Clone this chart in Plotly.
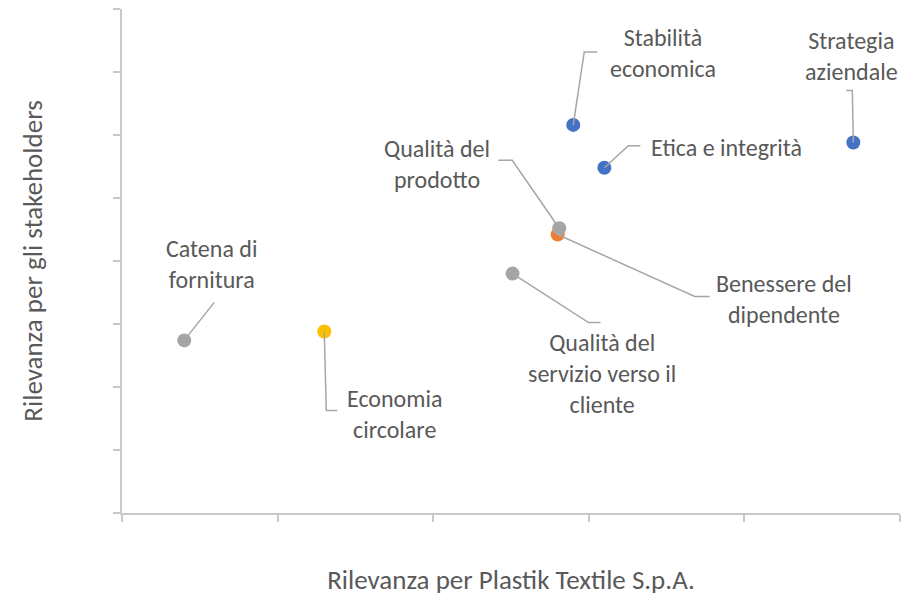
import plotly.graph_objects as go

# ============================
# DATA
# ============================
temi = [
    "Catena di<br>fornitura",
    "Economia<br>circolare",
    "Qualità del<br>servizio verso il<br>cliente",
    "Benessere del<br>dipendente",
    "Qualità del<br>prodotto",
    "Stabilità<br>economica",
    "Etica e integrità",
    "Strategia<br>aziendale",
]
rilevanza_azienda = [0.40, 1.30, 2.51, 2.80, 2.81, 2.90, 3.10, 4.70]
rilevanza_stakeholder = [1.37, 1.44, 1.90, 2.21, 2.26, 3.08, 2.74, 2.94]
colori = ["#A5A5A5", "#FFC000", "#A5A5A5", "#ED7D31", "#A5A5A5",
          "#4472C4", "#4472C4", "#4472C4"]

# label placement (screen pixels from the point: dx right, dy down)
label_off = [(27, -76), (70, 82), (89, 100), (226, 64), (-122, -64),
             (90, -72), (45, -20), (-2, -87)]
label_anchor = ["center", "center", "center", "center", "center",
                "center", "left", "center"]
# leader line elbows (screen pixels from the point)
leader = [
    [(30, -38)],
    [(2, 79), (13, 79)],
    [(76, 49), (88, 49)],
    [(137, 62), (152, 62)],
    [(-47, -68), (-61, -68)],
    [(11, -73), (24, -73)],
    [(24, -22), (36, -22)],
    [(-1, -52), (-7, -52)],
]

GRAY_TXT = "#595959"
AXIS_COL = "#C9C9C9"
FONT = "Carlito, Lato, sans-serif"
FSIZE = 24
TSIZE = 27

fig = go.Figure()

fig.add_trace(go.Scatter(
    x=rilevanza_azienda,
    y=rilevanza_stakeholder,
    mode="markers",
    marker=dict(size=14, color=colori, line=dict(width=0)),
    hovertext=temi,
    showlegend=False,
))

for xv, yv, txt, (dx, dy), anc, pts in zip(rilevanza_azienda, rilevanza_stakeholder,
                                           temi, label_off, label_anchor, leader):
    # leader line
    path = "M 0 0 " + " ".join("L %d %d" % (px, -py) for px, py in pts)
    fig.add_shape(
        type="path", path=path,
        xref="x", yref="y", xsizemode="pixel", ysizemode="pixel",
        xanchor=xv, yanchor=yv,
        line=dict(color="#A6A6A6", width=1.5),
        layer="above",
    )
    # label
    fig.add_annotation(
        x=xv, y=yv, text=txt, showarrow=False,
        xshift=dx, yshift=-dy, xanchor=anc, yanchor="middle",
        align="center",
        font=dict(family=FONT, size=FSIZE, color=GRAY_TXT),
    )

fig.update_layout(
    width=902, height=597,
    margin=dict(l=122, r=2, t=9, b=84),
    paper_bgcolor="white", plot_bgcolor="white",
    font=dict(family=FONT, color=GRAY_TXT),
)

fig.update_xaxes(
    range=[0, 5], dtick=1, showticklabels=False, showgrid=False, zeroline=False,
    showline=True, linecolor=AXIS_COL, linewidth=1.5,
    ticks="outside", ticklen=7, tickcolor=AXIS_COL, tickwidth=1.5,
    automargin=False,
    title=dict(text="Rilevanza per Plastik Textile S.p.A.", standoff=49,
               font=dict(family=FONT, size=TSIZE, color=GRAY_TXT)),
)
fig.update_yaxes(
    range=[0, 4], dtick=0.5, showticklabels=False, showgrid=False, zeroline=False,
    showline=True, linecolor=AXIS_COL, linewidth=1.5,
    ticks="outside", ticklen=7, tickcolor=AXIS_COL, tickwidth=1.5,
    automargin=False,
    title=dict(text="Rilevanza per gli stakeholders", standoff=63,
               font=dict(family=FONT, size=TSIZE, color=GRAY_TXT)),
)

# drop the default page margin so the figure fills the window exactly
fig.write_html("out.html",
               config={"displayModeBar": False},
               post_script="document.body.style.margin='0';"
                           "document.body.style.overflow='hidden';")
